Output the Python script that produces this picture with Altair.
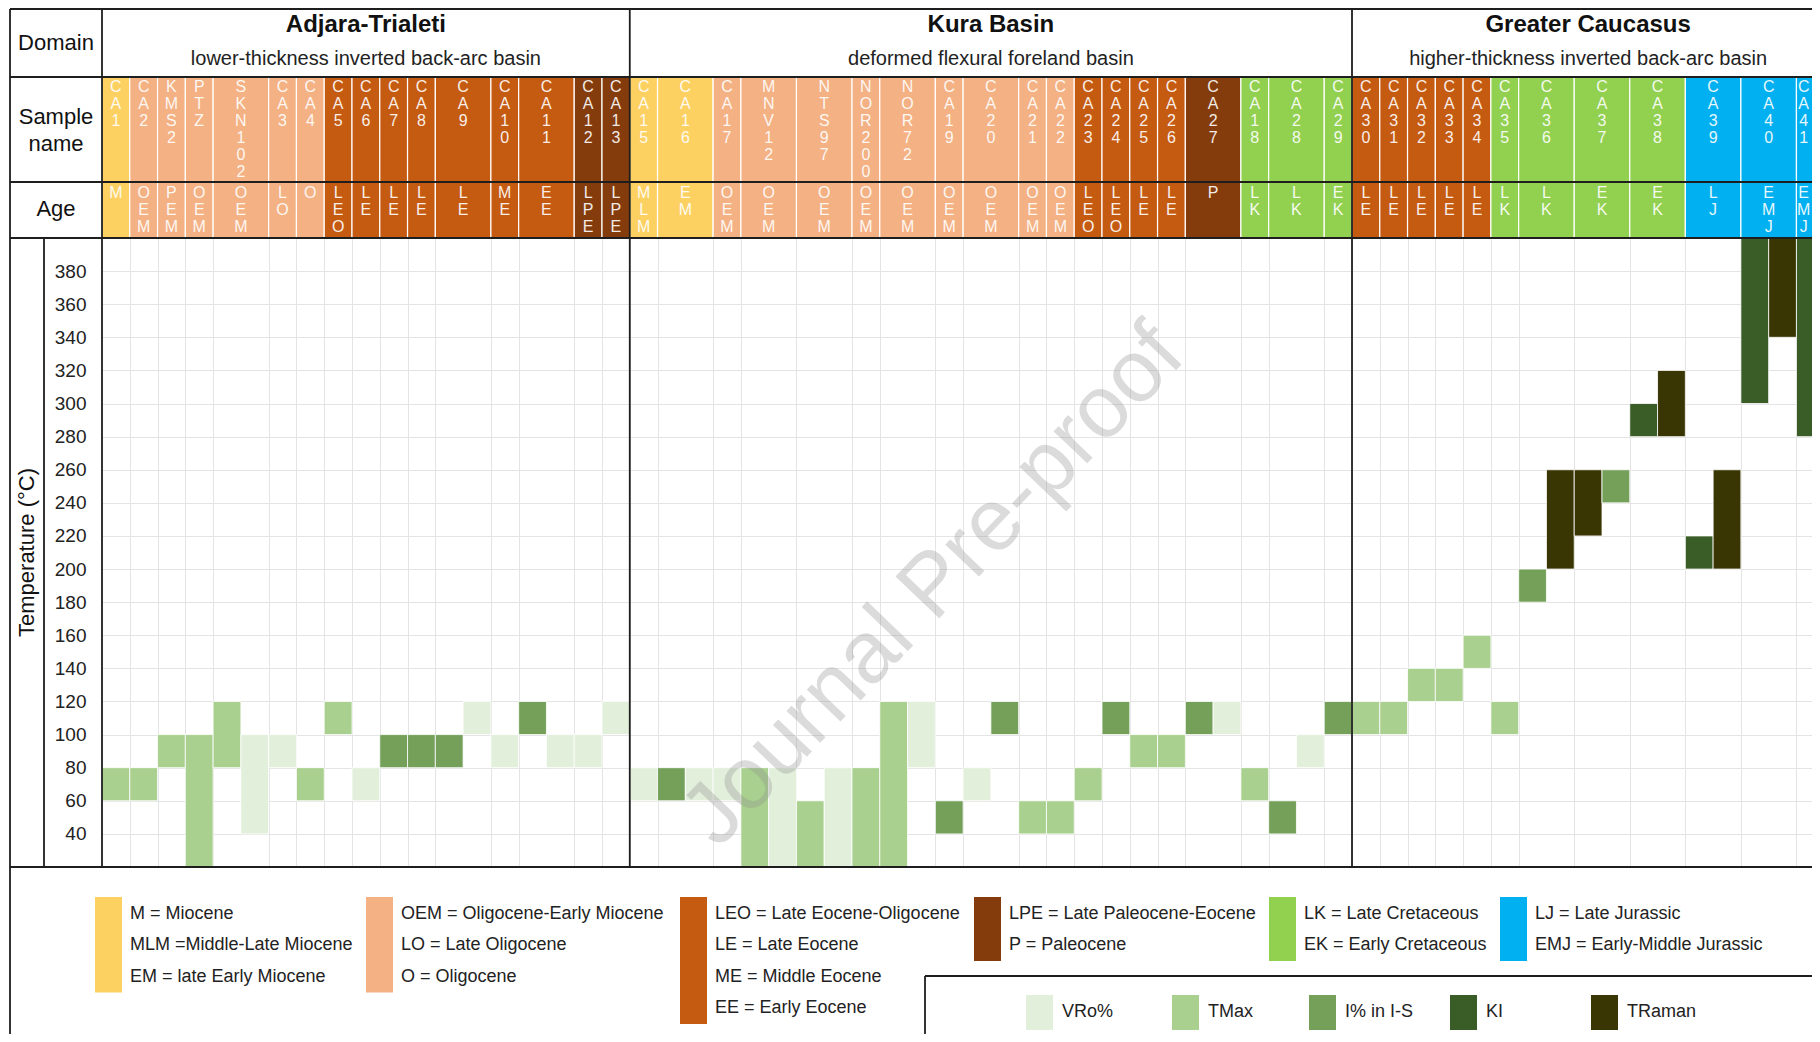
import altair as alt
import pandas as pd

FONT = "Liberation Sans"

# ---------------- data ----------------
domain_names = ["Adjara-Trialeti", "Kura Basin", "Greater Caucasus"]
domain_desc = ["lower-thickness inverted back-arc basin",
               "deformed flexural foreland basin",
               "higher-thickness inverted back-arc basin"]

samples = ["CA1", "CA2", "KMS2", "PTZ", "SKN102", "CA3", "CA4", "CA5", "CA6",
           "CA7", "CA8", "CA9", "CA10", "CA11", "CA12", "CA13",
           "CA15", "CA16", "CA17", "MNV12", "NTS97", "NOR200", "NOR72", "CA19",
           "CA20", "CA21", "CA22", "CA23", "CA24", "CA25", "CA26", "CA27",
           "CA18", "CA28", "CA29",
           "CA30", "CA31", "CA32", "CA33", "CA34", "CA35", "CA36", "CA37",
           "CA38", "CA39", "CA40", "CA41"]
sample_domain = [0] * 16 + [1] * 19 + [2] * 12
sample_age = ["M", "OEM", "PEM", "OEM", "OEM", "LO", "O", "LEO", "LE", "LE", "LE",
              "LE", "ME", "EE", "LPE", "LPE",
              "MLM", "EM", "OEM", "OEM", "OEM", "OEM", "OEM", "OEM", "OEM", "OEM",
              "OEM", "LEO", "LEO", "LE", "LE", "P", "LK", "LK", "EK",
              "LE", "LE", "LE", "LE", "LE", "LK", "LK", "EK", "EK", "LJ", "EMJ", "EMJ"]

# measurements (one sub-column per measurement, in order within each sample)
bar_sample = ["CA1", "CA2", "KMS2", "PTZ", "SKN102", "SKN102", "CA3", "CA4", "CA5",
              "CA6", "CA7", "CA8", "CA9", "CA9", "CA10", "CA11", "CA11", "CA12", "CA13",
              "CA15", "CA16", "CA16", "CA17", "MNV12", "MNV12", "NTS97", "NTS97",
              "NOR200", "NOR72", "NOR72", "CA19", "CA20", "CA20", "CA21", "CA22",
              "CA23", "CA24", "CA25", "CA26", "CA27", "CA27", "CA18", "CA28", "CA28",
              "CA29",
              "CA30", "CA31", "CA32", "CA33", "CA34", "CA35", "CA36", "CA36", "CA37",
              "CA37", "CA38", "CA38", "CA39", "CA39", "CA40", "CA40", "CA41"]
bar_method = ["TMax", "TMax", "TMax", "TMax", "TMax", "VRo%", "VRo%", "TMax", "TMax",
              "VRo%", "I% in I-S", "I% in I-S", "I% in I-S", "VRo%", "VRo%", "I% in I-S",
              "VRo%", "VRo%", "VRo%",
              "VRo%", "I% in I-S", "VRo%", "VRo%", "TMax", "VRo%", "TMax", "VRo%",
              "TMax", "TMax", "VRo%", "I% in I-S", "VRo%", "I% in I-S", "TMax", "TMax",
              "TMax", "I% in I-S", "TMax", "TMax", "I% in I-S", "VRo%", "TMax",
              "I% in I-S", "VRo%", "I% in I-S",
              "TMax", "TMax", "TMax", "TMax", "TMax", "TMax", "I% in I-S", "TRaman",
              "TRaman", "I% in I-S", "KI", "TRaman", "KI", "TRaman", "KI", "TRaman", "KI"]
bar_tmin = [60, 60, 80, 20, 80, 40, 80, 60, 100, 60, 80, 80, 80, 100, 80, 100, 80, 80, 100,
            60, 60, 60, 60, 20, 20, 20, 20, 20, 20, 80, 40, 60, 100, 40, 40, 60, 100, 80,
            80, 100, 100, 60, 40, 80, 100,
            100, 100, 120, 120, 140, 100, 180, 200, 220, 240, 280, 280, 200, 200, 300,
            340, 280]
bar_tmax = [80, 80, 100, 100, 120, 100, 100, 80, 120, 80, 100, 100, 100, 120, 100, 120,
            100, 100, 120,
            80, 80, 80, 80, 80, 80, 60, 80, 80, 120, 120, 60, 80, 120, 60, 60, 80, 120,
            100, 100, 120, 120, 80, 60, 100, 120,
            120, 120, 140, 140, 160, 120, 200, 260, 260, 260, 300, 320, 220, 260, 400,
            400, 400]

methods = ["VRo%", "TMax", "I% in I-S", "KI", "TRaman"]
method_colors = ["#E2EFDA", "#A9D08E", "#74A05A", "#3A5C26", "#3A3604"]

age_group_codes = [["M", "MLM", "EM"], ["OEM", "PEM", "LO", "O"],
                   ["LEO", "LE", "ME", "EE"], ["LPE", "P"], ["LK", "EK"], ["LJ", "EMJ"]]
age_group_colors = ["#FDD161", "#F4B183", "#C55A11", "#843C0C", "#92D050", "#00B0F0"]
age_legend = [["M = Miocene", "MLM =Middle-Late Miocene", "EM = late Early Miocene"],
              ["OEM = Oligocene-Early Miocene", "LO = Late Oligocene", "O = Oligocene"],
              ["LEO = Late Eocene-Oligocene", "LE = Late Eocene", "ME = Middle Eocene",
               "EE = Early Eocene"],
              ["LPE = Late Paleocene-Eocene", "P = Paleocene"],
              ["LK = Late Cretaceous", "EK = Early Cretaceous"],
              ["LJ = Late Jurassic", "EMJ = Early-Middle Jurassic"]]

temp_ticks = [40, 60, 80, 100, 120, 140, 160, 180, 200, 220, 240, 260, 280, 300, 320,
              340, 360, 380]

# ---------------- layout (pixels, relative to the plot area origin) ----------------
W, H = 1710, 629
XMAX = 61.56
T_LO, T_HI = 20, 400
xs = alt.Scale(domain=[0, XMAX], nice=False, zero=False)
ys = alt.Scale(domain=[T_LO, T_HI], nice=False, zero=False)


def ux(px):
    return px * XMAX / W


def ut(py):
    return T_HI - py * (T_HI - T_LO) / H


TOP, DOM_BOT, SMP_BOT = -229, -161, -56
LEFT, INNER, SVG_BOT = -92, -58, 796
LBOX_X, LBOX_Y = 823, 738

# ---------------- derived tables ----------------
age_color = {}
for codes, col in zip(age_group_codes, age_group_colors):
    for c in codes:
        age_color[c] = col

nslots = [bar_sample.count(s) for s in samples]
start = []
acc = 0
for n in nslots:
    start.append(acc)
    acc += n

head = pd.DataFrame({
    "sample": samples,
    "age": sample_age,
    "x0": start,
    "x1": [s + n for s, n in zip(start, nslots)],
})
# label centre; the last column is cut by the figure edge, keep its label inside
head["xc"] = [min((a + b) / 2, XMAX - 0.3) for a, b in zip(head["x0"], head["x1"])]
head["fill"] = [age_color[a] for a in sample_age]
head["name_v"] = ["\n".join(list(s)) for s in samples]
head["age_v"] = ["\n".join(list(a)) for a in sample_age]
head["s_y0"], head["s_y1"] = ut(DOM_BOT), ut(SMP_BOT)
head["a_y0"], head["a_y1"] = ut(SMP_BOT), ut(0)
head["s_ty"], head["a_ty"] = ut(DOM_BOT + 2), ut(SMP_BOT + 3)

seen = {}
bx0 = []
for s in bar_sample:
    k = seen.get(s, 0)
    seen[s] = k + 1
    bx0.append(start[samples.index(s)] + k)
bars_df = pd.DataFrame({"sample": bar_sample, "method": bar_method,
                        "tmin": bar_tmin, "tmax": bar_tmax, "x0": bx0})
bars_df["x1"] = bars_df["x0"] + 1

dom_rows = []
for d, (nm, ds) in enumerate(zip(domain_names, domain_desc)):
    idx = [i for i, v in enumerate(sample_domain) if v == d]
    x0 = start[idx[0]]
    x1 = start[idx[-1]] + nslots[idx[-1]]
    dom_rows.append({"name": nm, "desc": ds, "xc": (x0 + x1) / 2, "x0": x0,
                     "ty": ut(-213.5), "dy": ut(-179)})
dom_df = pd.DataFrame(dom_rows)
boundaries = sorted(set(start))

# border lines
seg = [
    (LEFT, W, TOP, TOP), (LEFT, W, DOM_BOT, DOM_BOT), (LEFT, W, SMP_BOT, SMP_BOT),
    (LEFT, W, 0, 0), (LEFT, W, H, H),
    (LEFT, LEFT, TOP, SVG_BOT), (0, 0, TOP, H), (INNER, INNER, 0, H),
    (LBOX_X, W, LBOX_Y, LBOX_Y), (LBOX_X, LBOX_X, LBOX_Y, SVG_BOT),
]
rules_df = pd.DataFrame([{"x0": ux(a), "x1": ux(b), "y0": ut(c), "y1": ut(d)}
                         for a, b, c, d in seg])
dom_lines = pd.DataFrame({"x0": [r["x0"] for r in dom_rows[1:]]})
dom_lines["y0"], dom_lines["y1"] = ut(TOP), ut(H)

# legends
grp_x = [-7, 264, 578, 872, 1167, 1398]
sw_rows, lt_rows = [], []
for g, items in enumerate(age_legend):
    sw_rows.append({"x0": ux(grp_x[g]), "x1": ux(grp_x[g] + 27),
                    "y0": ut(659), "y1": ut(659 + 31.5 * len(items) + 1),
                    "fill": age_group_colors[g]})
    for i, t in enumerate(items):
        lt_rows.append({"x": ux(grp_x[g] + 35), "y": ut(675.5 + 31.5 * i), "t": t})
meth_x = [924, 1070, 1207, 1348, 1489]
for m, col, mx in zip(methods, method_colors, meth_x):
    sw_rows.append({"x0": ux(mx), "x1": ux(mx + 27), "y0": ut(757), "y1": ut(792),
                    "fill": col})
    lt_rows.append({"x": ux(mx + 36), "y": ut(774), "t": m})
sw_df = pd.DataFrame(sw_rows)
lt_df = pd.DataFrame(lt_rows)

left_df = pd.DataFrame({"t": ["Domain", "Sample", "name", "Age"],
                        "x": [ux(-46)] * 4,
                        "y": [ut(-195), ut(-121), ut(-94), ut(-29)]})
ttl_df = pd.DataFrame({"t": ["Temperature (°C)"], "x": [ux(-75)], "y": [ut(H / 2)]})
wm_df = pd.DataFrame({"t": ["Journal Pre-proof"], "x": [ux(832)], "y": [ut(348)]})

# one shared axis definition for every layer (vertical grid at sample boundaries,
# horizontal grid and labels at the temperature ticks)
AX_X = alt.Axis(values=boundaries, grid=True, labels=False, ticks=False,
                domain=False, title=None, gridColor="#E4E4E4", gridWidth=1)
AX_Y = alt.Axis(values=temp_ticks, grid=True, ticks=False, domain=False,
                title=None, gridColor="#E4E4E4", gridWidth=1,
                labelFont=FONT, labelFontSize=19, labelColor="#222222",
                labelPadding=16)


def X(f):
    return alt.X(f, scale=xs, axis=AX_X)


def Y(f):
    return alt.Y(f, scale=ys, axis=AX_Y)


# ---------------- layers ----------------
bars = alt.Chart(bars_df).mark_rect(stroke="white", strokeWidth=0.8).encode(
    x=X("x0:Q"), x2="x1:Q", y=Y("tmin:Q"), y2="tmax:Q",
    color=alt.Color("method:N", scale=alt.Scale(domain=methods, range=method_colors),
                    legend=None),
)

smp_cells = alt.Chart(head).mark_rect(stroke="white", strokeWidth=1.2).encode(
    x=X("x0:Q"), x2="x1:Q", y=Y("s_y0:Q"), y2="s_y1:Q",
    fill=alt.Fill("fill:N", scale=None))
age_cells = alt.Chart(head).mark_rect(stroke="white", strokeWidth=1.2).encode(
    x=X("x0:Q"), x2="x1:Q", y=Y("a_y0:Q"), y2="a_y1:Q",
    fill=alt.Fill("fill:N", scale=None))
smp_text = alt.Chart(head).mark_text(
    font=FONT, fontSize=16, color="white", opacity=0.9, baseline="top",
    align="center", lineBreak="\n", lineHeight=17).encode(
    x=X("xc:Q"), y=Y("s_ty:Q"), text="name_v:N")
age_text = alt.Chart(head).mark_text(
    font=FONT, fontSize=16, color="white", opacity=0.9, baseline="top",
    align="center", lineBreak="\n", lineHeight=17).encode(
    x=X("xc:Q"), y=Y("a_ty:Q"), text="age_v:N")

dom_title = alt.Chart(dom_df).mark_text(
    font=FONT, fontSize=24, fontWeight="bold", color="#111111",
    baseline="middle", align="center").encode(x=X("xc:Q"), y=Y("ty:Q"), text="name:N")
dom_sub = alt.Chart(dom_df).mark_text(
    font=FONT, fontSize=20, color="#222222", baseline="middle", align="center").encode(
    x=X("xc:Q"), y=Y("dy:Q"), text="desc:N")

left_text = alt.Chart(left_df).mark_text(
    font=FONT, fontSize=22, color="#111111", baseline="middle", align="center").encode(
    x=X("x:Q"), y=Y("y:Q"), text="t:N")
ttl_text = alt.Chart(ttl_df).mark_text(
    font=FONT, fontSize=22, color="#111111", baseline="middle", align="center",
    angle=270).encode(x=X("x:Q"), y=Y("y:Q"), text="t:N")

rules = alt.Chart(rules_df).mark_rule(color="#1E1E1E", strokeWidth=1.8).encode(
    x=X("x0:Q"), x2="x1:Q", y=Y("y0:Q"), y2="y1:Q")
dom_rules = alt.Chart(dom_lines).mark_rule(color="#1E1E1E", strokeWidth=1.8).encode(
    x=X("x0:Q"), y=Y("y0:Q"), y2="y1:Q")

sw = alt.Chart(sw_df).mark_rect().encode(
    x=X("x0:Q"), x2="x1:Q", y=Y("y0:Q"), y2="y1:Q", fill=alt.Fill("fill:N", scale=None))
lt = alt.Chart(lt_df).mark_text(
    font=FONT, fontSize=18, color="#222222", baseline="middle", align="left").encode(
    x=X("x:Q"), y=Y("y:Q"), text="t:N")

wm = alt.Chart(wm_df).mark_text(
    font=FONT, fontSize=88, color="#8C8C8C", opacity=0.3, baseline="middle",
    align="center", angle=313.7).encode(x=X("x:Q"), y=Y("y:Q"), text="t:N")

chart = alt.layer(
    bars, smp_cells, age_cells, smp_text, age_text, dom_title, dom_sub,
    left_text, ttl_text, rules, dom_rules, sw, lt, wm
).properties(
    width=W, height=H,
    padding={"left": 94, "top": 230, "right": 0, "bottom": 167},
    autosize=alt.AutoSizeParams(type="none"),
    background="white",
).configure_view(stroke=None)

chart.save("out.html", embed_options={"renderer": "svg", "actions": False})
